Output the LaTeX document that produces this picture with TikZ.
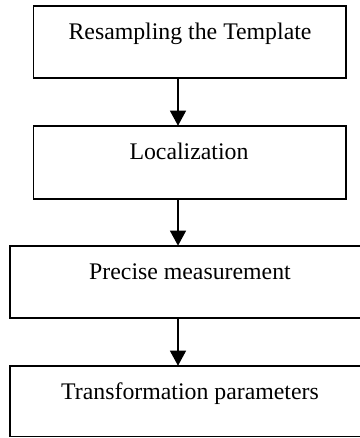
\documentclass[tikz,border=0pt]{standalone}
\usepackage{fontspec}
\setmainfont{Liberation Serif}
\usetikzlibrary{arrows.meta}
\begin{document}
\begin{tikzpicture}[x=1pt,y=-1pt,
  boxstyle/.style={draw=black,line width=1.7pt,rectangle,inner sep=0pt,outer sep=0pt},
  labelstyle/.style={anchor=base,inner sep=0pt,font=\fontsize{23.8}{28}\selectfont},
  arr/.style={line width=1.3pt,-{Triangle[width=16pt,length=15pt]}}]
\useasboundingbox (0,0) rectangle (359,438);
\node[boxstyle,minimum width=312.2pt,minimum height=72.5pt] (b1) at (189.6,42) {};
\node[boxstyle,minimum width=312.2pt,minimum height=73pt] (b2) at (189.6,162.2) {};
\node[boxstyle,minimum width=355pt,minimum height=72.3pt] (b3) at (187.5,281.8) {};
\node[boxstyle,minimum width=355pt,minimum height=70.8pt] (b4) at (187.5,401.1) {};
\node[labelstyle] (t1) at (190,39.1) {Resampling the Template};
\node[labelstyle] (t2) at (189,159.1) {Localization};
\node[labelstyle] (t3) at (190,279.1) {Precise measurement};
\node[labelstyle] (t4) at (190,399.1) {Transformation parameters};
\coordinate (ax) at (178,0);
\draw[arr] (b1.south -| ax) -- (b2.north -| ax);
\draw[arr] (b2.south -| ax) -- (b3.north -| ax);
\draw[arr] (b3.south -| ax) -- (b4.north -| ax);
\end{tikzpicture}
\end{document}
